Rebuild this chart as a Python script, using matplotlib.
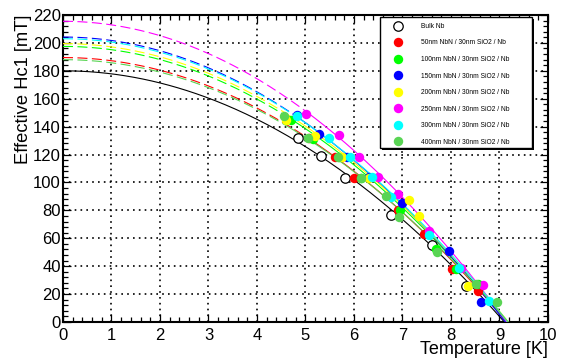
import numpy as np
import matplotlib
matplotlib.use("Agg")
import matplotlib.pyplot as plt
from matplotlib.lines import Line2D
from matplotlib.patches import Rectangle

plt.rcParams["font.family"] = ["Liberation Sans", "DejaVu Sans"]

LABELS = [
    "Bulk Nb",
    "50nm NbN / 30nm SiO2 / Nb",
    "100nm NbN / 30nm SiO2 / Nb",
    "150nm NbN / 30nm SiO2 / Nb",
    "200nm NbN / 30nm SiO2 / Nb",
    "250nm NbN / 30nm SiO2 / Nb",
    "300nm NbN / 30nm SiO2 / Nb",
    "400nm NbN / 30nm SiO2 / Nb",
]
COLORS = ["black", "#ff0000", "#00ff00", "#0000ff", "#ffff00",
          "#ff00ff", "#00ffff", "#59d454"]

# measured points (temperature [K], effective Hc1 [mT])
T_DATA = [
    [4.84, 5.32, 5.82, 6.76, 7.6, 8.3],
    [5.07, 5.6, 5.99, 6.9, 7.45, 8.03, 8.55],
    [4.7, 5.15, 5.7, 6.15, 6.95, 7.7, 8.1, 8.55],
    [4.82, 5.28, 5.85, 6.3, 7.0, 7.95, 8.61],
    [4.6, 5.2, 5.75, 6.3, 7.13, 7.35, 8.36],
    [5.01, 5.70, 6.11, 6.50, 6.9, 7.55, 8.2, 8.65],
    [4.82, 5.48, 5.92, 6.37, 6.76, 7.55, 8.17, 8.79],
    [4.55, 5.05, 5.67, 6.15, 6.66, 6.93, 7.72, 8.51, 8.94],
]
H_DATA = [
    [132, 119, 103, 77, 55, 26],
    [132, 118, 103, 80, 63, 38, 22],
    [145, 131, 118, 103, 80, 52, 38, 27],
    [148, 134.6, 118, 104, 85, 50.7, 14.3],
    [145, 133, 118, 103, 87.3, 76, 25.8],
    [149, 134, 118, 104, 91.4, 65, 39, 26.8],
    [147.8, 131.5, 118.4, 104, 89.7, 62, 38.7, 14.8],
    [147.5, 132, 118.4, 103, 90.2, 75.3, 50.2, 27, 14.3],
]
T_ERR = 0.06

# fit parameters Hc1(T) = H0 * (1 - (T/Tc)^2)
H0_FIT = [180, 189.5, 197.5, 204.2, 199.5, 215.5, 203.0, 188.0]
TC_FIT = [9.1, 9.15, 9.15, 9.12, 9.18, 9.15, 9.17, 9.18]

fig = plt.figure(figsize=(5.61, 3.58), dpi=100)
ax = fig.add_axes([0.1123, 0.1006, 0.8645, 0.8575])

dash = (0, (9, 4))
for i, label in enumerate(LABELS):
    h0, tc = H0_FIT[i], TC_FIT[i]
    t_start = min(T_DATA[i])
    if i == 0:
        t = np.linspace(0, tc, 300)
        ax.plot(t, h0 * (1 - (t / tc) ** 2), color=COLORS[i], lw=0.8, zorder=3)
    else:
        t1 = np.linspace(0, t_start, 200)
        ax.plot(t1, h0 * (1 - (t1 / tc) ** 2), color=COLORS[i], lw=0.8,
                linestyle=dash, zorder=3)
        t2 = np.linspace(t_start, tc, 200)
        ax.plot(t2, h0 * (1 - (t2 / tc) ** 2), color=COLORS[i], lw=0.8, zorder=3)

for i, label in enumerate(LABELS):
    ax.errorbar(T_DATA[i], H_DATA[i], xerr=T_ERR, fmt="none", ecolor="black",
                elinewidth=0.6, capsize=1.3, capthick=0.6, zorder=4)
    if i == 0:
        ax.plot(T_DATA[i], H_DATA[i], "o", ms=6.8, mfc="white", mec="black",
                mew=0.9, zorder=5)
    else:
        ax.plot(T_DATA[i], H_DATA[i], "o", ms=6.8, mfc=COLORS[i], mec=COLORS[i],
                mew=0, zorder=5)

ax.set_xlim(0, 10)
ax.set_ylim(0, 220)
ax.set_xticks(np.arange(0, 11, 1))
ax.set_yticks(np.arange(0, 221, 20))
ax.set_xticks(np.arange(0, 10.01, 0.2), minor=True)
ax.set_yticks(np.arange(0, 220.1, 4), minor=True)
ax.tick_params(which="both", direction="in", top=True, right=True,
               labelsize=12, width=0.9)
ax.tick_params(axis="x", pad=4)
ax.tick_params(axis="y", pad=1.5)
ax.tick_params(which="major", length=6)
ax.tick_params(which="minor", length=3.5)
ax.grid(True, which="major", color="black", linestyle=(0, (1, 2.5)), lw=1.2)
for s in ax.spines.values():
    s.set_linewidth(1.5)

ax.set_xlabel("Temperature [K]", fontsize=13, loc="right")
ax.set_ylabel("Effective Hc1 [mT]", fontsize=13.2, loc="top")
ax.xaxis.set_label_coords(1.0, -0.062)
ax.yaxis.set_label_coords(-0.064, 1.0)

# legend box with ROOT-like shadow
bx0, bx1, by0, by1 = 0.654, 0.967, 0.567, 0.9935
ax.add_patch(Rectangle((bx0 + 0.004, by0 - 0.006), bx1 - bx0, by1 - by0,
                       transform=ax.transAxes, fc="black", ec="none",
                       zorder=9, clip_on=False))
ax.add_patch(Rectangle((bx0, by0), bx1 - bx0, by1 - by0,
                       transform=ax.transAxes, fc="white", ec="black",
                       lw=1.0, zorder=9.5, clip_on=False))

handles = [Line2D([0], [0], marker="o", ls="none", ms=6.8, mfc="white",
                  mec="black", mew=0.9)]
for c in COLORS[1:]:
    handles.append(Line2D([0], [0], marker="o", ls="none", ms=6.8, mfc=c,
                          mec=c, mew=0))
leg = ax.legend(handles, LABELS, loc="upper left",
                bbox_to_anchor=(0.674, 0.985), fontsize=4.8, frameon=False,
                borderpad=0.5, labelspacing=1.43, handletextpad=2.6,
                borderaxespad=0, handlelength=1.5)
leg.set_zorder(10)

fig.savefig("out.png", dpi=100)
